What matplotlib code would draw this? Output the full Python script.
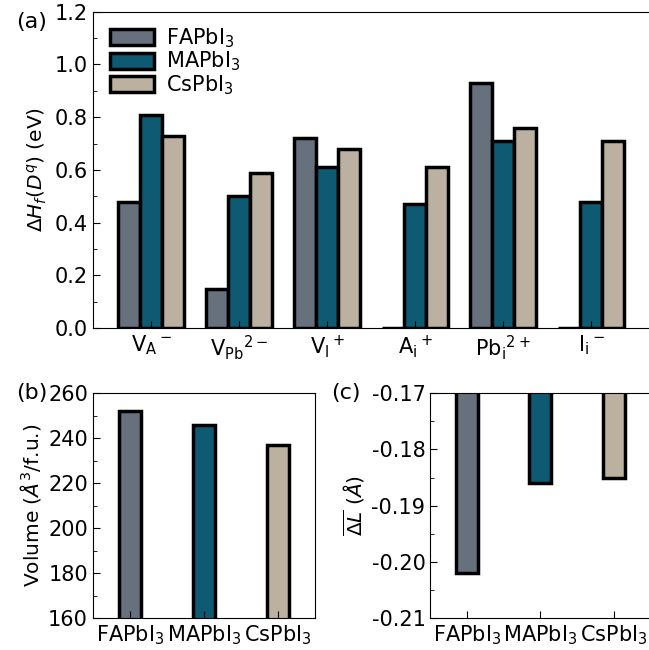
import numpy as np
import matplotlib
matplotlib.use("Agg")
import matplotlib.pyplot as plt
from matplotlib.ticker import MultipleLocator

plt.rcParams['font.size'] = 15

# compounds and colours
compounds = ['FAPbI$_3$', 'MAPbI$_3$', 'CsPbI$_3$']
colors = ['#67707d', '#0e5a72', '#bcb0a0']

# defect formation energies (eV)
defects = [r'V$_\mathrm{A}$$^-$', r'V$_\mathrm{Pb}$$^{2-}$', r'V$_\mathrm{I}$$^+$',
           r'A$_\mathrm{i}$$^+$', r'Pb$_\mathrm{i}$$^{2+}$', r'I$_\mathrm{i}$$^-$']
dH_FA = [0.48, 0.15, 0.72, 0.0, 0.93, 0.0]
dH_MA = [0.81, 0.50, 0.61, 0.47, 0.71, 0.48]
dH_Cs = [0.73, 0.59, 0.68, 0.61, 0.76, 0.71]

# volume per formula unit and mean bond length change
volume = [252, 246, 237]
dL = [-0.202, -0.186, -0.185]

fig = plt.figure(figsize=(6.49, 6.5), dpi=100)
ax1 = fig.add_axes([0.143, 0.495, 0.858, 0.487])
ax2 = fig.add_axes([0.143, 0.049, 0.342, 0.346])
ax3 = fig.add_axes([0.663, 0.049, 0.339, 0.346])

lw = 2.5
w = 0.25
x = np.arange(len(defects))
for i, vals in enumerate([dH_FA, dH_MA, dH_Cs]):
    ax1.bar(x + (i - 1) * w, vals, w, color=colors[i], edgecolor='k',
            linewidth=lw, label=compounds[i])
ax1.set_xticks(x)
ax1.set_xticklabels(defects)
ax1.set_ylim(0, 1.2)
ax1.yaxis.set_major_locator(MultipleLocator(0.2))
ax1.yaxis.set_minor_locator(MultipleLocator(0.1))
ax1.set_ylabel(r'$\Delta H_f(D^q)$ (eV)', fontsize=14.5)
ax1.legend(loc='upper left', frameon=False, handlelength=2.1, handleheight=0.8,
           labelspacing=0.0, handletextpad=0.6, borderaxespad=0.3,
           bbox_to_anchor=(0.005, 1.0))

xc = np.arange(3)
ax2.bar(xc, volume, 0.3, color=colors, edgecolor='k', linewidth=lw)
ax2.set_ylim(160, 260)
ax2.yaxis.set_major_locator(MultipleLocator(20))
ax2.yaxis.set_minor_locator(MultipleLocator(10))
ax2.set_ylabel(r'Volume ($\AA^3$/f.u.)', fontsize=14.5)

ax3.bar(xc, dL, 0.3, color=colors, edgecolor='k', linewidth=lw)
ax3.set_ylim(-0.21, -0.17)
ax3.yaxis.set_major_locator(MultipleLocator(0.01))
ax3.yaxis.set_minor_locator(MultipleLocator(0.005))
ax3.set_yticklabels(['%.2f' % v for v in ax3.get_yticks()])
ax3.set_ylabel(r'$\overline{\Delta L}$ ($\AA$)', fontsize=14.5)

for ax in (ax2, ax3):
    ax.set_xticks(xc)
    ax.set_xticklabels(compounds)
    ax.set_xlim(-0.5, 2.5)

for ax in (ax1, ax2, ax3):
    ax.tick_params(which='both', direction='in')
    ax.tick_params(which='major', length=5)
    ax.tick_params(which='minor', length=3)

fig.text(0.025, 0.982, '(a)', ha='left', va='top', fontsize=16)
fig.text(0.025, 0.41, '(b)', ha='left', va='top', fontsize=16)
fig.text(0.51, 0.41, '(c)', ha='left', va='top', fontsize=16)

fig.savefig('out.png', dpi=100)
